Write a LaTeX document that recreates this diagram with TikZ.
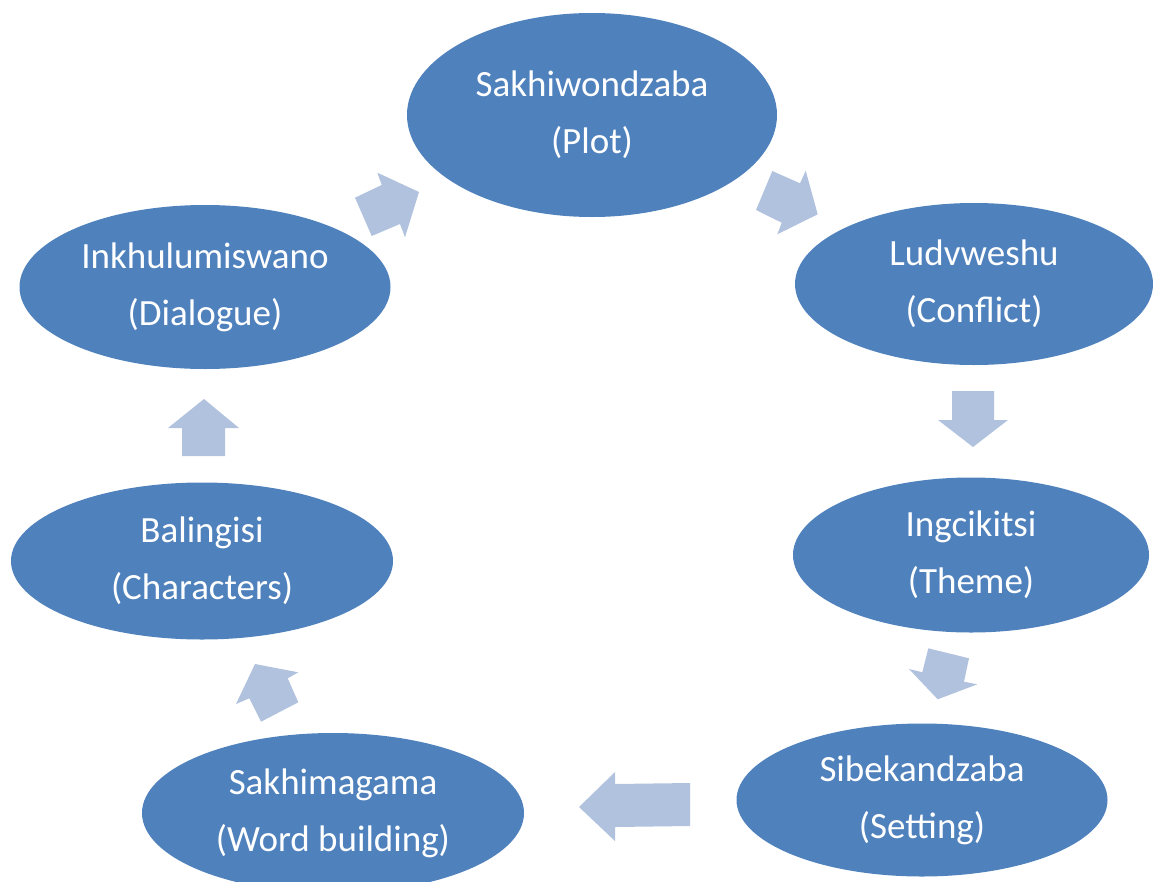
\documentclass[tikz,border=0pt]{standalone}
\usepackage{fontspec}
\setmainfont{Carlito}
\usetikzlibrary{shapes.geometric}
\definecolor{ellblue}{HTML}{4F81BD}
\definecolor{arrblue}{HTML}{B0C2DE}
\tikzset{
  oval/.style={ellipse, fill=ellblue, draw=none, inner sep=0pt, text=white,
    align=center, font=\fontsize{37}{57}\selectfont},
  blockarrow/.style={fill=arrblue, draw=none}
}
\begin{document}
\begin{tikzpicture}[x=1pt,y=-1pt]
\useasboundingbox (0,0) rectangle (1153,881);
\node[oval, minimum width=370pt, minimum height=204pt] (plot) at (592,115) {Sakhiwondzaba\\(Plot)};
\node[oval, minimum width=358pt, minimum height=162pt] (conflict) at (974,284) {Ludvweshu\\(Conflict)};
\node[oval, minimum width=356pt, minimum height=155pt] (theme) at (971,555) {Ingcikitsi\\(Theme)};
\node[oval, minimum width=371pt, minimum height=153pt] (setting) at (922,800) {Sibekandzaba\\(Setting)};
\node[oval, minimum width=382pt, minimum height=160pt] (word) at (333,813) {Sakhimagama\\(Word building)};
\node[oval, minimum width=382pt, minimum height=157pt] (characters) at (202,561) {Balingisi\\(Characters)};
\node[oval, minimum width=371pt, minimum height=164pt] (dialogue) at (205,287) {Inkhulumiswano\\(Dialogue)};
% dialogue -> plot
\fill[blockarrow] (419,192) -- (377.3,172.7) -- (381.7,185) -- (355,197.7) -- (371.7,236) -- (400,224) -- (405,237.3) -- cycle;
% plot -> conflict
\fill[blockarrow] (817.7,214.3) -- (805.7,170.7) -- (800,183.3) -- (772.3,171) -- (756,210) -- (781.7,222.7) -- (777.3,234.3) -- cycle;
% conflict -> theme
\fill[blockarrow] (973,447) -- (938,420) -- (952,420) -- (952,391) -- (994,391) -- (994,420) -- (1008,420) -- cycle;
% theme -> setting
\fill[blockarrow] (937.7,699.3) -- (909,669) -- (922.3,672.3) -- (928.3,648.3) -- (969,658.3) -- (964,681.7) -- (977.3,684.3) -- cycle;
% setting -> word
\fill[blockarrow] (579,807) -- (615,772) -- (615,784) -- (690,783) -- (690,826) -- (615,827) -- (615,841) -- cycle;
% word -> characters
\fill[blockarrow] (255,664) -- (298.3,672.3) -- (287.7,678.3) -- (298.3,702.3) -- (261,721.7) -- (249.3,698.3) -- (236,704) -- cycle;
% characters -> dialogue
\fill[blockarrow] (204,399) -- (239,428) -- (225,428) -- (225,456) -- (182,456) -- (182,428) -- (168,428) -- cycle;
\end{tikzpicture}
\end{document}
